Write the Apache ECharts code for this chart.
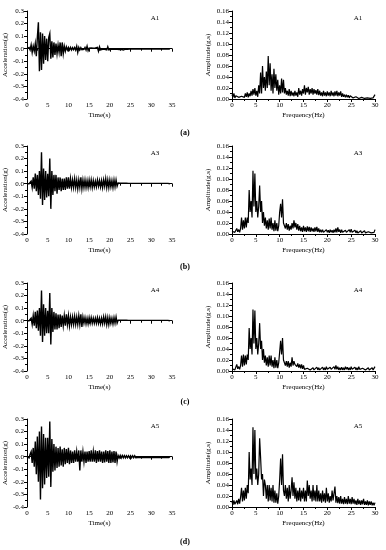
<!DOCTYPE html>
<html><head><meta charset="utf-8">
<script src="https://cdn.jsdelivr.net/npm/echarts@6/dist/echarts.min.js"></script>
<style>html,body{margin:0;padding:0;background:#fff}#c{width:386px;height:550px}</style>
</head><body><div id="c"></div>
<script>
// ---- Data ----
// Acceleration time histories, sampled every 0.25 s from 0 s (g)
const dtTime = 0.25;
const accA1 = [
0,0,.01,-.01, .03,-.03,.02,-.02, .04,-.06,.09,.21, -.18,.13,-.17,.12, -.12,.1,-.09,.08,
-.1,.09,.12,-.08, .06,-.07,.05,-.05, .04,-.04,.03,-.03, .05,-.06,.05,-.04, .02,-.02,.015,-.01,
.01,-.01,.01,-.01, .008,-.008,.01,-.01, .02,-.03,.01,-.01, .008,-.008,.006,-.006, .01,-.01,.02,-.015,
.005,-.005,.006,-.006, .005,-.005,.006,-.005, .01,-.02,.015,-.01, .005,-.005,.006,-.005, .01,-.01,.015,-.01,
.005,-.005,.005,-.005, .004,-.004,.005,-.004, .006,-.006,.005,-.005, .008,-.01,.005,-.004, .004,-.004,.003,-.003,
.003,-.003,.003,-.003, .003,-.003,.003,-.003, .003,-.003,.003,-.003, .003,-.003,.003,-.003, .003,-.003,.002,-.002,
.002,-.002,.002,-.002, .002,-.002,.002,-.002, .002,-.002,.002,-.002, .002,-.002,.002,-.002, .002,-.002,0
];
const accA3 = [
0,0,0,.005, .02,-.03,.05,-.04, .08,-.06,.07,-.09, .1,-.12,.25,-.17, .12,-.13,.1,-.11,
.08,-.1,.2,-.2, .1,-.09,.07,-.06, .07,-.08,.05,-.05, .05,-.06,.04,-.05, .04,-.05,.05,-.04,
.05,-.04,.04,-.03, .03,-.03,.04,-.03, .03,-.04,.03,-.03, .05,-.04,.03,-.03, .03,-.03,.025,-.03,
.03,-.025,.03,-.03, .025,-.025,.02,-.025, .03,-.02,.025,-.025, .025,-.03,.03,-.02, .04,-.03,.03,-.03,
.03,-.025,.025,-.03, .03,-.025,.03,-.02, .005,-.005,.004,-.004, .004,-.004,.004,-.004, .004,-.004,.003,-.003,
.003,-.003,.003,-.003, .003,-.003,.003,-.003, .003,-.003,.003,-.003, .003,-.003,.003,-.003, .003,-.003,.003,-.003,
.003,-.003,.003,-.003, .003,-.003,.003,-.003, .003,-.003,.003,-.003, .003,-.003,.003,-.003, .003,-.003,0
];
const accA4 = [
0,0,0,.005, .02,-.03,.04,-.04, .07,-.06,.08,-.08, .1,-.12,.24,-.17, .13,-.12,.1,-.1,
.08,-.1,.22,-.19, .1,-.09,.07,-.07, .06,-.07,.05,-.06, .05,-.05,.04,-.04, .04,-.04,.05,-.03,
.04,-.04,.03,-.03, .03,-.03,.035,-.03, .03,-.03,.04,-.03, .05,-.05,.03,-.02, .025,-.025,.02,-.025,
.025,-.02,.025,-.02, .02,-.02,.02,-.02, .025,-.02,.02,-.025, .02,-.025,.03,-.02, .03,-.03,.025,-.03,
.025,-.02,.02,-.025, .025,-.02,.03,-.02, .004,-.004,.004,-.004, .004,-.004,.004,-.004, .004,-.004,.003,-.003,
.003,-.003,.003,-.003, .003,-.003,.003,-.003, .003,-.003,.003,-.003, .003,-.003,.003,-.003, .003,-.003,.003,-.003,
.003,-.003,.003,-.003, .003,-.003,.003,-.003, .003,-.003,.003,-.003, .003,-.003,.003,-.003, .003,-.003,0
];
const accA5 = [
0,.005,-.01,.02, .04,-.05,.07,-.08, .12,-.14,.16,-.2, .2,-.34,.24,-.25, .18,-.22,.15,-.17,
.15,-.16,.28,-.24, .14,-.12,.1,-.11, .08,-.09,.07,-.08, .08,-.07,.06,-.08, .07,-.06,.06,-.05,
.07,-.06,.05,-.05, .04,-.05,.05,-.04, .04,-.04,.05,-.11, .05,-.04,.04,-.04, .04,-.05,.04,-.04,
.045,-.04,.05,-.04, .04,-.04,.05,-.05, .045,-.04,.05,-.04, .04,-.05,.04,-.045, .05,-.04,.045,-.05,
.05,-.05,.04,-.045, .045,-.05,.04,-.04, .01,-.01,.01,-.01, .009,-.009,.009,-.009, .008,-.008,.008,-.008,
.008,-.008,.008,-.008, .008,-.008,.007,-.007, .007,-.007,.007,-.007, .007,-.007,.007,-.007, .007,-.007,.007,-.007,
.007,-.007,.006,-.006, .006,-.006,.006,-.006, .006,-.006,.006,-.006, .006,-.006,.006,-.006, .006,-.006,0
];
// Fourier amplitude spectra, sampled every 0.2 Hz from 0 Hz (g.s)
const dfFreq = 0.2;
const specA1 = [
.008,.003,.01,.002,.006, .004,.008,.003,.006,.002, .005,.002,.008,.003,.01, .004,.012,.003,.01,.005,
.015,.006,.018,.008,.02, .006,.015,.004,.025,.01, .048,.01,.06,.02,.04, .015,.05,.02,.078,.025,
.065,.015,.045,.01,.055, .02,.045,.015,.035,.008, .025,.01,.037,.012,.035, .01,.02,.008,.015,.006,
.018,.005,.015,.006,.012, .005,.015,.006,.012,.004, .02,.008,.015,.006,.018, .01,.025,.008,.02,.012,
.022,.008,.018,.01,.02, .008,.018,.01,.016,.008, .018,.007,.015,.006,.012, .005,.015,.006,.012,.005,
.014,.006,.012,.005,.015, .006,.012,.005,.014,.006, .015,.005,.012,.006,.014, .004,.01,.004,.008,.003,
.008,.003,.007,.002,.006, .003,.006,.002,.005,.002, .004,.002,.003,.001,.003, .002,.003,.001,.002,.001,
.002,.001,.002,.001,.002, .001,.002,.001,.002,.003, .008
];
const specA3 = [
.005,.002,.008,.003,.006, .01,.004,.008,.003,.01, .03,.008,.025,.01,.03, .012,.03,.02,.08,.04,
.06,.03,.115,.05,.11, .04,.06,.03,.05,.088, .04,.06,.02,.04,.015, .03,.01,.025,.008,.028,
.01,.03,.008,.02,.005, .025,.006,.02,.005,.015, .04,.055,.03,.063,.02, .015,.01,.02,.008,.018,
.006,.015,.008,.02,.01, .025,.012,.02,.008,.018, .006,.015,.005,.012,.004, .015,.005,.012,.004,.014,
.005,.013,.004,.012,.005, .01,.004,.012,.005,.013, .004,.01,.003,.008,.003, .008,.003,.006,.002,.008,
.003,.007,.002,.008,.003, .007,.002,.008,.003,.01, .003,.012,.004,.008,.002, .008,.003,.006,.002,.007,
.003,.006,.002,.008,.003, .009,.003,.006,.002,.007, .002,.006,.002,.005,.002, .006,.002,.005,.002,.006,
.002,.005,.001,.004,.002, .005,.002,.004,.001,.003, .008
];
const specA4 = [
.004,.002,.006,.002,.005, .012,.004,.008,.003,.01, .028,.008,.03,.01,.028, .012,.03,.02,.078,.04,
.06,.03,.112,.05,.11, .04,.06,.03,.05,.087, .04,.055,.02,.04,.015, .028,.01,.025,.008,.028,
.01,.028,.008,.02,.005, .025,.006,.02,.005,.015, .035,.055,.03,.06,.02, .015,.01,.018,.008,.018,
.006,.015,.008,.025,.01, .018,.012,.015,.008,.014, .006,.012,.005,.012,.004, .01,.003,.006,.002,.005,
.002,.006,.002,.005,.002, .006,.002,.005,.002,.007, .002,.006,.002,.005,.002, .007,.002,.006,.002,.008,
.003,.006,.002,.007,.003, .006,.002,.008,.003,.01, .003,.008,.002,.006,.002, .007,.002,.006,.002,.008,
.003,.007,.002,.006,.002, .008,.003,.006,.002,.007, .002,.006,.002,.008,.003, .006,.002,.005,.002,.007,
.002,.005,.002,.006,.002, .005,.002,.006,.002,.004, .008
];
const specA5 = [
.01,.004,.012,.005,.008, .012,.005,.015,.006,.018, .035,.01,.03,.012,.035, .015,.04,.025,.1,.05,
.07,.04,.145,.06,.14, .05,.07,.04,.06,.125, .09,.05,.06,.02,.05, .04,.015,.04,.01,.04,
.012,.035,.01,.04,.008, .03,.008,.025,.006,.02, .05,.088,.04,.096,.03, .02,.04,.015,.035,.01,
.04,.015,.03,.054,.02, .045,.015,.035,.01,.03, .012,.035,.01,.03,.015, .035,.01,.03,.01,.048,
.02,.04,.015,.03,.01, .04,.012,.03,.01,.04, .01,.03,.01,.025,.008, .03,.01,.025,.008,.035,
.01,.025,.008,.02,.01, .03,.012,.025,.037,.008, .02,.007,.018,.006,.02, .006,.015,.005,.018,.006,
.015,.005,.02,.006,.015, .005,.018,.006,.015,.005, .012,.004,.015,.005,.012, .004,.012,.005,.015,.004,
.01,.004,.012,.003,.01, .004,.01,.003,.008,.003, .008
];
const stationNames = ['A1','A3','A4','A5'];
const panelTags = ['(a)','(b)','(c)','(d)'];
const accTicks = {min:-0.4, max:0.3, interval:0.1};
const timeTicks = {min:0, max:35, interval:5};
const specTicks = {min:0, max:0.16, interval:0.02};
const freqTicks = {min:0, max:30, interval:5};

// ---- Chart ----
const accSets = [accA1, accA3, accA4, accA5];
const specSets = [specA1, specA3, specA4, specA5];
const FONT = 'Liberation Serif';
const rowTops = [11, 146, 283, 419];
const gridH = 88;
const tagY = [133, 267, 402, 542];

const grids = [], xAxes = [], yAxes = [], series = [], graphics = [];
const axisCommon = {
  axisLine:{show:true, lineStyle:{color:'#000', width:1}},
  axisTick:{show:true, inside:false, length:3, lineStyle:{color:'#000'}},
  minorTick:{show:true, splitNumber:2, length:2, lineStyle:{color:'#000'}},
  splitLine:{show:false},
  axisLabel:{color:'#000', fontFamily:FONT, fontSize:7, margin:3},
  nameTextStyle:{color:'#000', fontFamily:FONT, fontSize:7},
  nameLocation:'middle'
};
rowTops.forEach((top, r) => {
  grids.push({left:27, top:top, width:145, height:gridH});
  grids.push({left:232, top:top, width:143, height:gridH});
  const gi = r*2;
  xAxes.push(Object.assign({}, axisCommon, {type:'value', gridIndex:gi, min:timeTicks.min, max:timeTicks.max, interval:timeTicks.interval, name:'Time(s)', nameGap:13}));
  yAxes.push(Object.assign({}, axisCommon, {type:'value', gridIndex:gi, min:accTicks.min, max:accTicks.max, interval:accTicks.interval, name:'Acceleration(g)', nameGap:16,
    axisLabel:Object.assign({}, axisCommon.axisLabel, {formatter:v=>v.toFixed(1)})}));
  xAxes.push(Object.assign({}, axisCommon, {type:'value', gridIndex:gi+1, min:freqTicks.min, max:freqTicks.max, interval:freqTicks.interval, name:'Frequency(Hz)', nameGap:13}));
  yAxes.push(Object.assign({}, axisCommon, {type:'value', gridIndex:gi+1, min:specTicks.min, max:specTicks.max, interval:specTicks.interval, name:'Amplitude(g.s)', nameGap:20,
    axisLabel:Object.assign({}, axisCommon.axisLabel, {formatter:v=>v.toFixed(2)})}));
  series.push({type:'line', xAxisIndex:gi, yAxisIndex:gi, showSymbol:false, symbol:'none', animation:false,
    lineStyle:{color:'#000', width:1.4, join:'miter'}, data:accSets[r].map((v,i)=>[i*dtTime, v])});
  series.push({type:'line', xAxisIndex:gi+1, yAxisIndex:gi+1, showSymbol:false, symbol:'none', animation:false,
    lineStyle:{color:'#000', width:1.2}, data:specSets[r].map((v,i)=>[i*dfFreq, v])});
  graphics.push({type:'text', x:155, y:top+7, style:{text:stationNames[r], font:'7px "'+FONT+'"', fill:'#000', textAlign:'center', textVerticalAlign:'middle'}});
  graphics.push({type:'text', x:358, y:top+7, style:{text:stationNames[r], font:'7px "'+FONT+'"', fill:'#000', textAlign:'center', textVerticalAlign:'middle'}});
  graphics.push({type:'text', x:185, y:tagY[r], style:{text:panelTags[r], font:'bold 8px "'+FONT+'"', fill:'#000', textAlign:'center', textVerticalAlign:'middle'}});
});

const chart = echarts.init(document.getElementById('c'), null, {renderer:'canvas'});
chart.setOption({
  animation:false,
  backgroundColor:'#fff',
  grid:grids, xAxis:xAxes, yAxis:yAxes, series:series, graphic:graphics
});
</script></body></html>
